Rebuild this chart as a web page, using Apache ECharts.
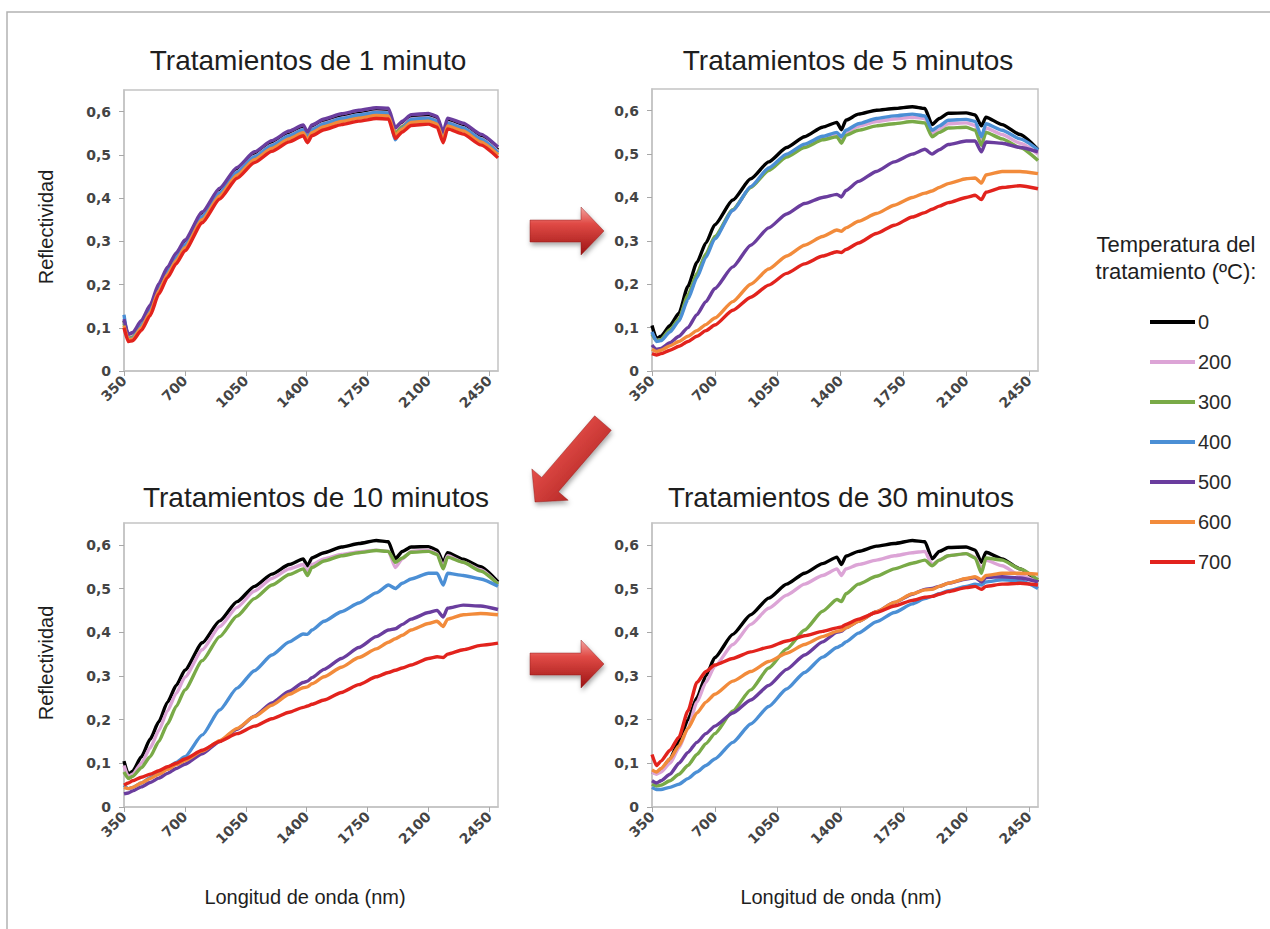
<!DOCTYPE html>
<html><head><meta charset="utf-8">
<script src="https://cdn.jsdelivr.net/npm/echarts@6/dist/echarts.min.js"></script>
<style>html,body{margin:0;padding:0;background:#fff}#c{width:1270px;height:929px}</style>
</head><body><div id="c"></div>
<script>
// ---- data ----
const wavelengths = [350,375,400,450,500,550,600,650,700,800,900,1000,1100,1200,1300,1380,1405,1430,1500,1600,1700,1800,1870,1910,1950,2000,2100,2150,2185,2210,2300,2400,2500];
const temperatures = ['0','200','300','400','500','600','700'];
const panelTitles = ['Tratamientos de 1 minuto','Tratamientos de 5 minutos','Tratamientos de 10 minutos','Tratamientos de 30 minutos'];
const yAxisName = 'Reflectividad';
const xAxisName = 'Longitud de onda (nm)';
const legendTitle = 'Temperatura del\ntratamiento (ºC):';

// 1 minute
const m1_0   = [0.116,0.081,0.084,0.111,0.146,0.196,0.234,0.266,0.296,0.361,0.416,0.464,0.500,0.526,0.548,0.562,0.546,0.562,0.576,0.588,0.596,0.602,0.601,0.556,0.571,0.586,0.589,0.582,0.546,0.578,0.566,0.541,0.511];
const m1_200 = [0.113,0.078,0.081,0.108,0.143,0.193,0.231,0.263,0.293,0.358,0.413,0.461,0.497,0.523,0.545,0.559,0.543,0.559,0.573,0.585,0.593,0.599,0.598,0.553,0.568,0.583,0.586,0.579,0.543,0.575,0.563,0.538,0.508];
const m1_300 = [0.110,0.075,0.078,0.105,0.140,0.190,0.228,0.260,0.290,0.355,0.410,0.458,0.494,0.520,0.542,0.556,0.540,0.556,0.570,0.582,0.590,0.596,0.595,0.550,0.565,0.580,0.583,0.576,0.540,0.572,0.560,0.535,0.505];
const m1_400 = [0.130,0.072,0.076,0.104,0.141,0.192,0.230,0.262,0.292,0.357,0.412,0.460,0.496,0.522,0.544,0.558,0.538,0.558,0.572,0.584,0.592,0.598,0.597,0.535,0.562,0.582,0.585,0.578,0.535,0.574,0.562,0.537,0.505];
const m1_500 = [0.120,0.085,0.089,0.117,0.152,0.202,0.240,0.273,0.303,0.368,0.423,0.471,0.507,0.533,0.555,0.569,0.553,0.569,0.583,0.595,0.603,0.609,0.608,0.563,0.578,0.593,0.596,0.589,0.553,0.585,0.573,0.548,0.518];
const m1_600 = [0.105,0.072,0.074,0.100,0.135,0.185,0.223,0.255,0.285,0.350,0.405,0.453,0.489,0.515,0.537,0.551,0.535,0.551,0.565,0.577,0.585,0.591,0.590,0.545,0.560,0.575,0.578,0.571,0.535,0.567,0.555,0.530,0.500];
const m1_700 = [0.100,0.068,0.070,0.094,0.128,0.178,0.216,0.248,0.278,0.343,0.398,0.446,0.482,0.508,0.530,0.544,0.528,0.544,0.558,0.570,0.578,0.584,0.583,0.538,0.553,0.568,0.571,0.564,0.528,0.560,0.548,0.523,0.493];
// 5 minutes
const m5_0   = [0.105,0.075,0.080,0.105,0.133,0.195,0.250,0.295,0.337,0.394,0.443,0.482,0.515,0.540,0.562,0.573,0.556,0.578,0.592,0.601,0.605,0.609,0.605,0.568,0.582,0.594,0.595,0.590,0.565,0.585,0.568,0.545,0.510];
const m5_200 = [0.088,0.070,0.072,0.093,0.118,0.170,0.220,0.266,0.308,0.370,0.424,0.465,0.497,0.520,0.538,0.546,0.533,0.550,0.564,0.575,0.581,0.585,0.582,0.548,0.558,0.570,0.572,0.566,0.532,0.560,0.545,0.525,0.500];
const m5_300 = [0.085,0.070,0.073,0.095,0.120,0.175,0.225,0.270,0.310,0.372,0.423,0.462,0.493,0.515,0.533,0.540,0.525,0.543,0.555,0.565,0.570,0.575,0.572,0.540,0.550,0.560,0.562,0.555,0.520,0.550,0.535,0.515,0.485];
const m5_400 = [0.090,0.068,0.070,0.090,0.115,0.165,0.215,0.262,0.305,0.370,0.425,0.468,0.500,0.523,0.541,0.550,0.540,0.555,0.570,0.582,0.588,0.592,0.588,0.555,0.565,0.578,0.580,0.575,0.540,0.570,0.555,0.535,0.510];
const m5_500 = [0.060,0.050,0.052,0.065,0.080,0.100,0.130,0.160,0.190,0.240,0.290,0.330,0.362,0.386,0.400,0.407,0.401,0.416,0.437,0.460,0.482,0.500,0.511,0.500,0.510,0.522,0.530,0.530,0.505,0.528,0.525,0.515,0.505];
const m5_600 = [0.050,0.045,0.048,0.058,0.068,0.080,0.093,0.107,0.122,0.160,0.200,0.235,0.265,0.290,0.310,0.325,0.322,0.330,0.345,0.363,0.382,0.400,0.410,0.415,0.423,0.432,0.443,0.445,0.433,0.452,0.460,0.460,0.455];
const m5_700 = [0.040,0.037,0.040,0.048,0.057,0.068,0.080,0.093,0.106,0.140,0.170,0.198,0.225,0.247,0.265,0.275,0.273,0.280,0.295,0.317,0.336,0.355,0.365,0.373,0.380,0.388,0.400,0.405,0.395,0.412,0.423,0.427,0.420];
// 10 minutes
const m10_0   = [0.105,0.075,0.082,0.115,0.155,0.195,0.240,0.278,0.313,0.376,0.426,0.470,0.505,0.533,0.555,0.568,0.552,0.570,0.582,0.595,0.603,0.610,0.607,0.568,0.585,0.595,0.596,0.588,0.560,0.582,0.567,0.550,0.515];
const m10_200 = [0.095,0.070,0.075,0.100,0.135,0.175,0.220,0.260,0.297,0.360,0.413,0.457,0.494,0.523,0.545,0.555,0.538,0.555,0.568,0.578,0.584,0.588,0.585,0.548,0.568,0.585,0.588,0.580,0.550,0.575,0.560,0.543,0.510];
const m10_300 = [0.080,0.065,0.070,0.090,0.115,0.150,0.190,0.230,0.268,0.335,0.390,0.437,0.477,0.508,0.532,0.545,0.530,0.548,0.563,0.575,0.582,0.587,0.585,0.560,0.570,0.583,0.585,0.578,0.545,0.572,0.560,0.540,0.510];
const m10_400 = [0.050,0.042,0.045,0.055,0.067,0.078,0.090,0.102,0.115,0.165,0.222,0.272,0.312,0.348,0.378,0.396,0.395,0.405,0.425,0.447,0.467,0.490,0.508,0.500,0.512,0.522,0.535,0.535,0.508,0.535,0.530,0.522,0.505];
const m10_500 = [0.030,0.032,0.037,0.046,0.056,0.066,0.077,0.088,0.098,0.122,0.150,0.178,0.208,0.238,0.265,0.285,0.288,0.296,0.315,0.340,0.365,0.390,0.405,0.408,0.418,0.430,0.445,0.450,0.435,0.455,0.462,0.460,0.452];
const m10_600 = [0.045,0.042,0.045,0.055,0.065,0.075,0.086,0.097,0.106,0.128,0.152,0.180,0.207,0.233,0.258,0.273,0.275,0.282,0.298,0.320,0.342,0.362,0.377,0.385,0.393,0.405,0.420,0.425,0.413,0.430,0.440,0.443,0.440];
const m10_700 = [0.050,0.055,0.060,0.068,0.075,0.083,0.092,0.100,0.110,0.130,0.150,0.168,0.185,0.202,0.217,0.228,0.231,0.235,0.245,0.262,0.280,0.298,0.308,0.313,0.318,0.325,0.340,0.344,0.342,0.350,0.360,0.370,0.375];
// 30 minutes
const m30_0   = [0.080,0.078,0.085,0.110,0.150,0.200,0.250,0.300,0.342,0.395,0.440,0.478,0.510,0.535,0.557,0.572,0.555,0.574,0.585,0.597,0.603,0.610,0.607,0.568,0.585,0.594,0.595,0.588,0.560,0.583,0.568,0.545,0.515];
const m30_200 = [0.080,0.075,0.080,0.100,0.135,0.180,0.240,0.285,0.322,0.372,0.418,0.455,0.485,0.510,0.530,0.545,0.530,0.545,0.555,0.565,0.575,0.582,0.585,0.555,0.565,0.575,0.580,0.572,0.545,0.565,0.552,0.530,0.515];
const m30_300 = [0.052,0.048,0.050,0.060,0.075,0.095,0.120,0.145,0.168,0.220,0.268,0.318,0.362,0.405,0.448,0.475,0.470,0.488,0.510,0.528,0.545,0.558,0.565,0.552,0.565,0.575,0.580,0.570,0.535,0.570,0.565,0.545,0.520];
const m30_400 = [0.045,0.040,0.040,0.045,0.052,0.065,0.080,0.095,0.110,0.148,0.190,0.230,0.270,0.308,0.343,0.365,0.370,0.378,0.398,0.424,0.445,0.465,0.477,0.482,0.488,0.495,0.505,0.510,0.508,0.515,0.520,0.518,0.500];
const m30_500 = [0.060,0.055,0.060,0.075,0.100,0.125,0.148,0.168,0.185,0.215,0.245,0.278,0.315,0.348,0.378,0.400,0.402,0.410,0.425,0.447,0.468,0.487,0.498,0.500,0.505,0.512,0.522,0.525,0.515,0.525,0.527,0.524,0.515];
const m30_600 = [0.085,0.080,0.088,0.110,0.140,0.180,0.215,0.240,0.258,0.288,0.310,0.333,0.352,0.372,0.390,0.402,0.404,0.410,0.425,0.447,0.468,0.488,0.497,0.498,0.505,0.512,0.523,0.527,0.520,0.530,0.535,0.535,0.533];
const m30_700 = [0.120,0.095,0.105,0.130,0.160,0.220,0.285,0.310,0.325,0.340,0.355,0.366,0.380,0.392,0.402,0.410,0.412,0.418,0.430,0.445,0.460,0.473,0.480,0.482,0.487,0.493,0.502,0.505,0.498,0.505,0.510,0.512,0.508];

// ---- build ----
const panels = [
  [m1_0,m1_200,m1_300,m1_400,m1_500,m1_600,m1_700],
  [m5_0,m5_200,m5_300,m5_400,m5_500,m5_600,m5_700],
  [m10_0,m10_200,m10_300,m10_400,m10_500,m10_600,m10_700],
  [m30_0,m30_200,m30_300,m30_400,m30_500,m30_600,m30_700]
];
const colors = ['#000000','#dca4d6','#79aa47','#4b8fd5','#6a3d9e','#f28b3b','#e2231d'];
const grids = [
  {left:124, top:90, width:374, height:281},
  {left:652, top:89, width:386, height:282},
  {left:124, top:523, width:374, height:284},
  {left:652, top:523, width:386, height:284}
];
const axisGray = '#c3c3c3';
const labelFont = 'DejaVu Sans';
const textFont = 'Liberation Sans';

const xAxes = grids.map((g,i)=>({
  gridIndex:i, type:'value', min:350, max:2500, interval:350,
  axisLine:{show:true, onZero:false, lineStyle:{color:axisGray, width:1.5}},
  axisTick:{show:true, length:5, lineStyle:{color:'#a8a8a8'}},
  splitLine:{show:false},
  axisLabel:{rotate:45, fontSize:14, fontWeight:'bold', fontFamily:labelFont, color:'#444444', margin:7,
    showMaxLabel:false, formatter:v=> v>2450 ? '' : String(v)}
}));
const yAxes = grids.map((g,i)=>({
  gridIndex:i, type:'value', min:0, max:0.65, interval:0.1,
  axisLine:{show:true, lineStyle:{color:axisGray, width:1.5}},
  axisTick:{show:true, length:5, lineStyle:{color:'#a8a8a8'}},
  splitLine:{show:false},
  axisLabel:{fontSize:14, fontWeight:'bold', fontFamily:labelFont, color:'#444444', margin:13,
    showMaxLabel:false, formatter:v=> v>0.61 ? '' : (v===0 ? '0' : v.toFixed(1).replace('.',',')) }
}));

const series = [];
panels.forEach((panel,p)=>{
  panel.forEach((vals,t)=>{
    series.push({
      type:'line', name:temperatures[t], xAxisIndex:p, yAxisIndex:p,
      data: wavelengths.map((w,i)=>[w, vals[i]]),
      symbol:'none', showSymbol:false, smooth:0.2, smoothMonotone:'x',
      lineStyle:{width:3.4, color:colors[t]}, itemStyle:{color:colors[t]},
      emphasis:{disabled:true}, animation:false
    });
  });
});

function arrowPoints(x1,y1,x2,y2,bw,hw,hl){
  const dx=x2-x1, dy=y2-y1, L=Math.hypot(dx,dy), ux=dx/L, uy=dy/L, nx=-uy, ny=ux;
  const bx=x2-ux*hl, by=y2-uy*hl;
  return [[x1+nx*bw/2,y1+ny*bw/2],[bx+nx*bw/2,by+ny*bw/2],[bx+nx*hw/2,by+ny*hw/2],[x2,y2],
          [bx-nx*hw/2,by-ny*hw/2],[bx-nx*bw/2,by-ny*bw/2],[x1-nx*bw/2,y1-ny*bw/2]];
}
function arrow(x1,y1,x2,y2,diag){
  return {type:'polygon', silent:true, z:10,
    shape:{points:arrowPoints(x1,y1,x2,y2,22,48,23)},
    style:{fill:new echarts.graphic.LinearGradient(0,0,diag?1:0,1,[
      {offset:0,color:'#f3a3a0'},{offset:0.35,color:'#e04a45'},{offset:1,color:'#9c1414'}]),
      stroke:'rgba(130,20,20,0.5)', lineWidth:0.8,
      shadowBlur:5, shadowColor:'rgba(0,0,0,0.35)', shadowOffsetX:1, shadowOffsetY:3}};
}
function txt(x,y,text,size,rot){
  return {type:'text', x:x, y:y, rotation:rot||0, silent:true,
    style:{text:text, fontSize:size, fontFamily:textFont, fill:'#1e1e1e', align:'center', verticalAlign:'middle', lineHeight:size*1.2}};
}

const graphic = [
  {type:'rect', silent:true, z:-10, shape:{x:7,y:12,width:1300,height:1000}, style:{fill:'none', stroke:'#b2b2b2', lineWidth:1.5}},
  txt(308,60,panelTitles[0],28), txt(848,60,panelTitles[1],28),
  txt(316,497,panelTitles[2],28), txt(841,497,panelTitles[3],28),
  txt(46,227,yAxisName,20,Math.PI/2), txt(46,663,yAxisName,20,Math.PI/2),
  txt(305,897,xAxisName,20), txt(841,897,xAxisName,20),
  txt(1176,258,legendTitle,22),
  arrow(530,231,604,231,false),
  arrow(530,664,604,664,false),
  arrow(603,423,535,502,true)
];

const chart = echarts.init(document.getElementById('c'), null, {renderer:'svg'});
chart.setOption({
  backgroundColor:'#ffffff',
  animation:false,
  grid: grids.map(g=>Object.assign({show:true, borderColor:axisGray, borderWidth:1.5, backgroundColor:'transparent', containLabel:false}, g)),
  xAxis:xAxes, yAxis:yAxes,
  legend:{data:temperatures, orient:'vertical', left:1145, top:307, icon:'rect',
    itemWidth:45, itemHeight:4, itemGap:20, selectedMode:false,
    textStyle:{fontSize:20, fontFamily:textFont, color:'#2a2a2a', lineHeight:20, padding:[0,0,0,-2]}},
  series:series,
  graphic:graphic
});
</script></body></html>
